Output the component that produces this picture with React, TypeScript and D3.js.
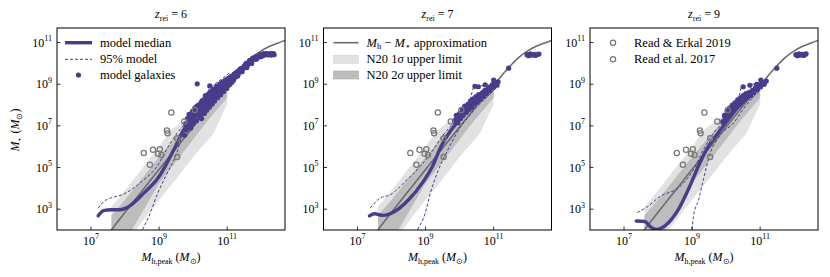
import { useMemo } from 'react';
import * as d3 from 'd3';

type Pt = [number, number];

// all values are log10(M / Msun)
const panelTitles = ['6', '7', '9'];
const xTickExps = [7, 9, 11];
const yTickExps = [3, 5, 7, 9, 11];

const approxCurve: Pt[] = [
  [7.4, 1.55], [7.6, 2.0], [8.0, 2.85], [9.0, 4.9], [10.0, 6.95], [10.5, 7.97], [11.0, 8.95],
  [11.5, 9.9], [11.75, 10.3], [12.0, 10.6], [12.25, 10.82], [12.5, 10.98], [12.7, 11.1],
];

const band1Upper: Pt[] = [
  [7.6, 3.1], [8.0, 3.9], [8.5, 4.95], [9.0, 6.0], [9.35, 6.8], [10.0, 7.6], [10.5, 8.25], [11.0, 9.0],
];
const band1Lower: Pt[] = [
  [11.0, 8.05], [10.6, 6.65], [10.0, 5.5], [9.5, 4.45], [9.0, 3.45], [8.5, 2.4], [8.0, 1.3], [7.6, 1.3],
];
const band2Upper: Pt[] = [
  [7.6, 2.7], [8.0, 3.45], [9.0, 5.5], [10.0, 7.45], [10.5, 8.05], [11.0, 8.7],
];
const band2Lower: Pt[] = [
  [11.0, 8.35], [10.4, 7.2], [10.0, 6.35], [9.0, 4.25], [8.2, 2.0], [7.9, 1.3], [7.6, 1.3],
];

const medianZ6: Pt[] = [
  [7.21, 2.68], [7.37, 2.93], [7.6, 2.97], [7.86, 2.97], [8.05, 3.07], [8.55, 3.77], [9.0, 4.57],
  [9.43, 5.85], [9.72, 6.81], [9.97, 7.45], [10.25, 7.95], [10.5, 8.4], [10.75, 8.8], [11.0, 9.1], [11.1, 9.25],
];
const upperZ6: Pt[] = [
  [7.21, 3.05], [7.4, 3.4], [7.57, 3.53], [7.91, 3.69], [8.55, 4.41], [8.94, 5.05], [9.24, 5.93],
  [9.53, 6.65], [9.77, 7.13], [10.07, 7.85], [10.3, 8.4], [10.5, 8.8], [10.75, 9.15], [11.0, 9.45], [11.1, 9.6],
];
const lowerZ6: Pt[] = [
  [8.45, 1.8], [8.5, 1.97], [8.74, 2.81], [8.94, 3.69], [9.19, 4.57], [9.48, 5.53], [9.68, 6.49],
  [9.92, 7.21], [10.2, 7.6], [10.5, 8.0], [10.75, 8.4], [11.0, 8.75], [11.1, 8.9],
];

const medianZ7: Pt[] = [
  [7.35, 2.68], [7.5, 2.78], [7.75, 2.7], [8.05, 2.85], [8.5, 3.45], [8.9, 4.25], [9.2, 5.05],
  [9.45, 6.0], [9.75, 6.8], [10.0, 7.3], [10.25, 7.75], [10.5, 8.2], [10.75, 8.6], [11.0, 8.95], [11.1, 9.05],
];
const upperZ7: Pt[] = [
  [7.37, 3.05], [7.66, 3.53], [7.96, 3.69], [8.45, 4.41], [8.84, 5.05], [9.19, 5.77], [9.48, 6.49],
  [9.73, 6.97], [10.1, 7.6], [10.3, 8.2], [10.42, 8.85], [10.6, 8.92], [10.8, 8.95], [11.0, 9.1], [11.1, 9.2],
];
const lowerZ7: Pt[] = [
  [8.7, 1.8], [8.75, 1.97], [8.99, 2.81], [9.14, 3.77], [9.34, 4.73], [9.58, 5.61], [9.78, 6.25],
  [10.03, 6.97], [10.3, 7.5], [10.5, 7.9], [10.75, 8.3], [11.0, 8.7], [11.1, 8.85],
];

const medianZ9: Pt[] = [
  [7.36, 2.43], [7.61, 2.41], [7.78, 2.15], [7.95, 2.03], [8.2, 2.2], [8.59, 2.97], [8.93, 4.09],
  [9.18, 5.05], [9.42, 5.85], [9.76, 6.65], [10.06, 7.29], [10.3, 7.8], [10.55, 8.25], [10.8, 8.65], [11.0, 8.95], [11.1, 9.05],
];
const upperZ9: Pt[] = [
  [7.39, 2.84], [7.67, 3.1], [8.06, 3.61], [8.65, 4.09], [9.04, 4.89], [9.38, 6.0], [9.63, 6.65],
  [9.9, 7.1], [10.14, 7.53], [10.35, 8.2], [10.46, 8.86], [10.71, 8.97], [10.9, 9.05], [11.1, 9.2],
];
const lowerZ9: Pt[] = [
  [8.96, 1.8], [8.99, 1.97], [9.04, 2.65], [9.19, 3.45], [9.33, 4.41], [9.53, 5.69], [9.73, 6.33],
  [9.97, 6.81], [10.17, 7.05], [10.5, 7.8], [10.75, 8.3], [11.0, 8.7], [11.1, 8.85],
];

const galaxiesZ6: Pt[] = [
  [9.75, 6.55], [9.78, 7.1], [9.8, 6.8], [9.83, 7.35], [9.85, 6.95], [9.88, 7.55], [9.9, 7.2],
  [9.93, 6.9], [9.95, 7.45], [9.98, 7.7], [10.0, 7.1], [10.02, 7.35], [10.05, 7.85], [10.08, 7.55],
  [10.1, 7.25], [10.13, 7.75], [10.16, 8.0], [10.18, 7.45], [10.2, 7.7], [10.23, 8.1], [10.25, 7.35],
  [10.28, 7.9], [10.3, 8.2], [10.33, 7.6], [10.35, 8.0], [10.38, 8.35], [10.4, 7.75], [10.43, 8.15],
  [10.46, 8.5], [10.48, 7.9], [10.5, 8.3], [10.53, 8.65], [10.56, 8.05], [10.58, 8.45], [10.6, 8.75],
  [10.63, 8.2], [10.66, 8.6], [10.69, 8.9], [10.72, 8.35], [10.75, 8.7], [10.78, 9.0], [10.81, 8.5],
  [10.84, 8.85], [10.87, 9.1], [10.9, 8.65], [10.93, 9.0], [10.96, 9.2], [10.99, 8.8], [11.02, 9.1],
  [11.05, 9.3], [11.08, 9.0], [11.12, 9.25], [11.15, 9.4], [11.19, 9.2], [11.23, 9.45], [11.27, 9.55],
  [11.31, 9.4], [11.35, 9.65], [11.4, 9.75], [11.44, 9.6], [11.49, 9.85], [11.54, 9.95], [11.58, 9.8],
  [11.63, 10.05], [11.68, 10.1], [11.72, 10.0], [11.77, 10.2], [11.82, 10.28], [11.86, 10.2],
  [11.91, 10.35], [11.96, 10.4], [12.0, 10.32], [12.05, 10.44], [12.1, 10.4], [12.15, 10.47],
  [12.2, 10.41], [12.25, 10.46], [12.3, 10.4], [12.34, 10.45], [12.38, 10.42],
  [9.87, 7.0], [9.92, 7.35], [9.97, 7.2], [10.03, 7.6], [10.07, 7.3], [10.11, 7.95], [10.15, 7.55],
  [10.19, 7.9], [10.22, 7.55], [10.26, 8.2], [10.29, 7.7], [10.32, 8.05], [10.36, 8.45], [10.39, 8.1],
  [10.42, 7.95], [10.45, 8.3], [10.49, 8.6], [10.52, 8.1], [10.55, 8.35], [10.59, 8.7], [10.62, 8.55],
  [10.65, 8.35], [10.68, 8.75], [10.71, 8.55], [10.74, 8.9], [10.77, 8.6], [10.8, 8.8], [10.83, 9.05],
  [10.86, 8.75], [10.89, 8.95], [10.92, 9.15], [10.95, 8.85], [10.98, 9.05], [11.01, 9.25], [11.04, 8.95],
  [11.07, 9.15], [11.1, 9.35], [11.14, 9.1], [11.17, 9.3], [11.21, 9.5], [11.25, 9.35], [11.29, 9.6],
  [11.33, 9.5], [11.37, 9.7], [11.42, 9.68], [11.47, 9.75], [11.52, 9.88], [11.56, 10.0], [11.61, 9.95],
  [11.66, 10.15], [11.7, 10.12], [11.75, 10.25], [11.8, 10.2], [11.84, 10.33], [11.89, 10.28],
  [11.94, 10.33], [11.98, 10.42], [12.03, 10.38], [12.08, 10.47], [12.13, 10.43], [12.18, 10.45],
  [12.23, 10.42], [12.28, 10.47], [12.32, 10.43], [12.36, 10.47],
  [10.12, 9.02], [10.49, 8.92],
];
const galaxiesZ7: Pt[] = [
  [9.85, 7.25], [9.9, 7.5], [9.95, 7.15], [10.0, 7.6], [10.03, 7.35], [10.08, 7.8], [10.1, 7.5],
  [10.15, 7.95], [10.2, 7.65], [10.25, 8.05], [10.28, 7.8], [10.32, 8.2], [10.36, 7.9], [10.4, 8.3],
  [10.44, 8.05], [10.48, 8.4], [10.52, 8.15], [10.56, 8.5], [10.6, 8.25], [10.65, 8.55], [10.7, 8.4],
  [10.74, 8.7], [10.8, 8.55], [10.85, 8.8], [10.9, 8.7], [10.95, 8.95], [11.0, 8.85], [11.05, 9.05],
  [11.1, 8.95], [11.13, 9.12], [10.45, 8.9], [10.55, 8.88], [10.75, 8.97], [11.0, 9.2],
  [9.92, 7.35], [9.98, 7.45], [10.05, 7.55], [10.12, 7.7], [10.18, 7.8], [10.22, 7.95], [10.3, 8.0],
  [10.34, 8.1], [10.42, 8.15], [10.46, 8.25], [10.5, 8.3], [10.58, 8.4], [10.63, 8.45], [10.68, 8.6],
  [10.77, 8.65], [10.83, 8.7], [10.88, 8.85], [10.98, 9.0],
  [11.44, 9.77], [11.98, 10.42], [12.03, 10.37], [12.08, 10.46], [12.13, 10.4], [12.18, 10.44],
  [12.23, 10.38], [12.28, 10.43], [12.33, 10.45],
];
const galaxiesZ9: Pt[] = [
  [9.9, 7.2], [9.95, 7.5], [10.0, 7.3], [10.03, 7.7], [10.07, 7.45], [10.1, 7.85], [10.14, 7.6],
  [10.18, 8.0], [10.22, 7.75], [10.26, 8.1], [10.3, 7.9], [10.34, 8.25], [10.38, 8.0], [10.42, 8.35],
  [10.46, 8.15], [10.5, 8.45], [10.54, 8.25], [10.58, 8.55], [10.62, 8.35], [10.67, 8.6], [10.72, 8.45],
  [10.77, 8.7], [10.82, 8.6], [10.87, 8.85], [10.92, 8.75], [10.97, 8.95], [11.02, 8.9], [11.07, 9.05],
  [11.12, 9.0], [11.18, 9.15], [10.5, 8.88], [10.7, 8.95], [10.9, 9.0], [11.02, 9.2],
  [9.97, 7.4], [10.05, 7.55], [10.12, 7.7], [10.2, 7.85], [10.28, 8.0], [10.36, 8.12], [10.44, 8.25],
  [10.52, 8.35], [10.6, 8.45], [10.65, 8.5], [10.75, 8.6], [10.85, 8.75], [10.95, 8.85], [11.05, 9.0],
  [11.49, 9.77], [12.05, 10.42], [12.1, 10.37], [12.14, 10.46], [12.19, 10.4], [12.24, 10.44],
  [12.28, 10.38], [12.32, 10.43], [12.35, 10.46],
];

const readErkal2019: Pt[] = [
  [8.55, 5.7], [8.73, 5.13], [8.82, 5.85], [8.97, 5.66], [9.02, 5.88], [9.07, 5.6], [9.53, 5.5],
];
const read2017: Pt[] = [
  [9.23, 6.78], [9.25, 6.65], [9.36, 7.64], [9.53, 6.4], [9.74, 7.21], [10.05, 7.76],
];

const PURPLE = '#483d8b';
const GRAY_LINE = '#6b6b6b';
const LIGHT = '#e2e2e2';
const DARK = '#bdbdbd';
const FONT = '"Liberation Serif", serif';

const W = 228;
const H = 202;
const TOP = 28;
const LEFTS = [57, 323.5, 590];

function Panel({
  idx,
  median,
  upper,
  lower,
  galaxies,
}: {
  idx: number;
  median: Pt[];
  upper: Pt[];
  lower: Pt[];
  galaxies: Pt[];
}) {
  const x = useMemo(() => d3.scaleLog().domain([1e6, 10 ** 12.7]).range([0, W]), []);
  const y = useMemo(() => d3.scaleLog().domain([1e2, 10 ** 11.7]).range([H, 0]), []);
  const smooth = d3
    .line<Pt>()
    .x((d) => x(10 ** d[0]))
    .y((d) => y(10 ** d[1]))
    .curve(d3.curveMonotoneX);
  const poly = d3
    .line<Pt>()
    .x((d) => x(10 ** d[0]))
    .y((d) => y(10 ** d[1]));
  const clipId = `clip${idx}`;
  const left = LEFTS[idx];

  return (
    <g transform={`translate(${left},${TOP})`}>
      <defs>
        <clipPath id={clipId}>
          <rect x={0} y={0} width={W} height={H} />
        </clipPath>
      </defs>
      <g clipPath={`url(#${clipId})`}>
        <path d={(poly([...band1Upper, ...band1Lower]) ?? '') + 'Z'} fill={LIGHT} />
        <path d={(poly([...band2Upper, ...band2Lower]) ?? '') + 'Z'} fill={DARK} />
        <path d={smooth(approxCurve) ?? ''} fill="none" stroke={GRAY_LINE} strokeWidth={1.6} />
        {galaxies.map((d, i) => (
          <circle key={i} cx={x(10 ** d[0])} cy={y(10 ** d[1])} r={2.6} fill={PURPLE} />
        ))}
        <path d={smooth(upper) ?? ''} fill="none" stroke={PURPLE} strokeWidth={1} strokeDasharray="3 2" />
        <path d={smooth(lower) ?? ''} fill="none" stroke={PURPLE} strokeWidth={1} strokeDasharray="3 2" />
        <path d={smooth(median) ?? ''} fill="none" stroke={PURPLE} strokeWidth={3.4} strokeLinecap="round" />
        {[...readErkal2019, ...read2017].map((d, i) => (
          <circle
            key={'o' + i}
            cx={x(10 ** d[0])}
            cy={y(10 ** d[1])}
            r={2.6}
            fill="none"
            stroke="#7a7a7a"
            strokeWidth={1.3}
          />
        ))}
      </g>
      <rect x={0} y={0} width={W} height={H} fill="none" stroke="#000" strokeWidth={1} />
      {xTickExps.map((e) => (
        <g key={'x' + e} transform={`translate(${x(10 ** e)},0)`}>
          <line y1={H} y2={H - 3.5} stroke="#000" strokeWidth={0.8} />
          <text y={H + 14.5} textAnchor="middle" fontFamily={FONT} fontSize={12}>
            10<tspan dy={-5.5} fontSize={8}>{e}</tspan>
          </text>
        </g>
      ))}
      {yTickExps.map((e) => (
        <g key={'y' + e} transform={`translate(0,${y(10 ** e)})`}>
          <line x1={0} x2={3.5} stroke="#000" strokeWidth={0.8} />
          <text x={-5} y={4} textAnchor="end" fontFamily={FONT} fontSize={12}>
            10<tspan dy={-5.5} fontSize={8}>{e}</tspan>
          </text>
        </g>
      ))}
      <text x={W / 2} y={-10} textAnchor="middle" fontFamily={FONT} fontSize={12}>
        <tspan fontStyle="italic">z</tspan>
        <tspan dy={2.5} fontSize={8}>rei</tspan>
        <tspan dy={-2.5}> = {panelTitles[idx]}</tspan>
      </text>
      <text x={W / 2} y={H + 31} textAnchor="middle" fontFamily={FONT} fontSize={12}>
        <tspan fontStyle="italic">M</tspan>
        <tspan dy={2.5} fontSize={8}>h,peak</tspan>
        <tspan dy={-2.5}> (</tspan>
        <tspan fontStyle="italic">M</tspan>
        <tspan dy={2.5} fontSize={8}>⊙</tspan>
        <tspan dy={-2.5}>)</tspan>
      </text>
      {idx === 0 && <LegendModel />}
      {idx === 1 && <LegendApprox />}
      {idx === 2 && <LegendObs />}
    </g>
  );
}

const rowY = [14.7, 31.3, 47];

function LegendModel() {
  return (
    <g fontFamily={FONT} fontSize={12.5}>
      <line x1={8} x2={35} y1={rowY[0]} y2={rowY[0]} stroke={PURPLE} strokeWidth={3.4} />
      <line x1={8} x2={35} y1={rowY[1]} y2={rowY[1]} stroke={PURPLE} strokeWidth={1} strokeDasharray="3 2" />
      <circle cx={21.5} cy={rowY[2]} r={2.6} fill={PURPLE} />
      <text x={43} y={rowY[0] + 4}>model median</text>
      <text x={43} y={rowY[1] + 4}>95% model</text>
      <text x={43} y={rowY[2] + 4}>model galaxies</text>
    </g>
  );
}

function LegendApprox() {
  return (
    <g fontFamily={FONT} fontSize={12.5}>
      <line x1={10} x2={35} y1={rowY[0]} y2={rowY[0]} stroke={GRAY_LINE} strokeWidth={1.6} />
      <rect x={10} y={rowY[1] - 4} width={25} height={8} fill={LIGHT} stroke="#d0d0d0" strokeWidth={0.6} />
      <rect x={10} y={rowY[2] - 4} width={25} height={8} fill={DARK} stroke="#aaaaaa" strokeWidth={0.6} />
      <text x={43} y={rowY[0] + 4}>
        <tspan fontStyle="italic">M</tspan>
        <tspan dy={2.5} fontSize={8.5}>h</tspan>
        <tspan dy={-2.5}> − </tspan>
        <tspan fontStyle="italic">M</tspan>
        <tspan dy={2.5} fontSize={8.5}>⋆</tspan>
        <tspan dy={-2.5}> approximation</tspan>
      </text>
      <text x={43} y={rowY[1] + 4}>
        N20 1<tspan fontStyle="italic">σ</tspan> upper limit
      </text>
      <text x={43} y={rowY[2] + 4}>
        N20 2<tspan fontStyle="italic">σ</tspan> upper limit
      </text>
    </g>
  );
}

function LegendObs() {
  return (
    <g fontFamily={FONT} fontSize={12.5}>
      <circle cx={23} cy={rowY[0]} r={2.6} fill="none" stroke="#7a7a7a" strokeWidth={1.3} />
      <circle cx={23} cy={rowY[1]} r={2.6} fill="none" stroke="#7a7a7a" strokeWidth={1.3} />
      <text x={44} y={rowY[0] + 4}>Read &amp; Erkal 2019</text>
      <text x={44} y={rowY[1] + 4}>Read et al. 2017</text>
    </g>
  );
}

export default function App() {
  return (
    <div style={{ position: 'absolute', left: 0, top: 0 }}>
      <svg width={830} height={277} style={{ display: 'block', background: '#fff' }}>
        <Panel idx={0} median={medianZ6} upper={upperZ6} lower={lowerZ6} galaxies={galaxiesZ6} />
        <Panel idx={1} median={medianZ7} upper={upperZ7} lower={lowerZ7} galaxies={galaxiesZ7} />
        <Panel idx={2} median={medianZ9} upper={upperZ9} lower={lowerZ9} galaxies={galaxiesZ9} />
        <text
          transform="translate(19,130) rotate(-90)"
          textAnchor="middle"
          fontFamily={FONT}
          fontSize={12}
        >
          <tspan fontStyle="italic">M</tspan>
          <tspan dy={2.5} fontSize={8}>⋆</tspan>
          <tspan dy={-2.5}> (</tspan>
          <tspan fontStyle="italic">M</tspan>
          <tspan dy={2.5} fontSize={8}>⊙</tspan>
          <tspan dy={-2.5}>)</tspan>
        </text>
      </svg>
    </div>
  );
}
